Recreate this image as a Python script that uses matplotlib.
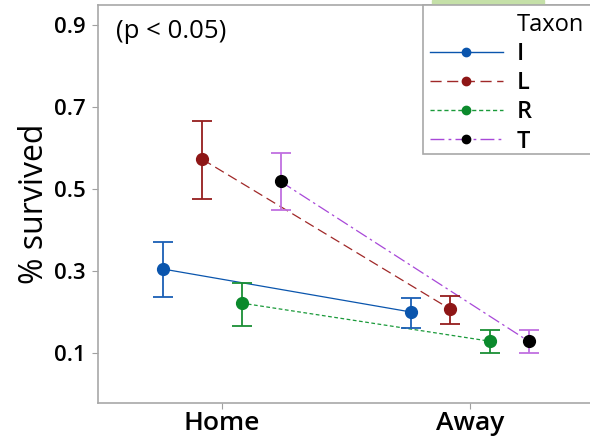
import numpy as np
import matplotlib.pyplot as plt
from matplotlib.lines import Line2D
from matplotlib.patches import Rectangle

plt.rcParams['font.family'] = ['Open Sans', 'DejaVu Sans']

groups = ["Home", "Away"]
taxa = ["I", "L", "R", "T"]
means = {
    "I": [0.305, 0.200],
    "L": [0.573, 0.207],
    "R": [0.222, 0.129],
    "T": [0.519, 0.129],
}
err_hi = {
    "I": [0.371, 0.234],
    "L": [0.666, 0.239],
    "R": [0.271, 0.156],
    "T": [0.588, 0.156],
}
err_lo = {
    "I": [0.237, 0.161],
    "L": [0.476, 0.171],
    "R": [0.166, 0.100],
    "T": [0.449, 0.100],
}

marker_col = {"I": "#0a55ad", "L": "#8e1616", "R": "#0b8a2c", "T": "black"}
line_col = {"I": "#0a55ad", "L": "#a02828", "R": "#1a9a3a", "T": "#a848d8"}
bar_col = {"I": "#1a5fb5", "L": "#951e1e", "R": "#1a8f35", "T": "#c070e0"}
styles = {"I": "-", "L": (0, (8, 4)), "R": (0, (3, 2)), "T": (0, (10, 3, 2, 3))}

fig = plt.figure(figsize=(5.9, 4.38), dpi=100)
ax = fig.add_axes([98 / 590, 1 - 403 / 438, 496 / 590, 398 / 438])

x = np.arange(1, len(groups) + 1)
offs = [-0.236, -0.079, 0.079, 0.236]
for t, o in zip(taxa, offs):
    m = np.array(means[t])
    lo = m - np.array(err_lo[t])
    hi = np.array(err_hi[t]) - m
    ax.plot(x + o, m, color=line_col[t], linestyle=styles[t], lw=0.9, zorder=2)
    ax.errorbar(x + o, m, yerr=[lo, hi], fmt='none', ecolor=bar_col[t],
                elinewidth=1.3, capsize=7.5, capthick=1.3, zorder=3)
    ax.plot(x + o, m, 'o', color=marker_col[t], ms=8.5, zorder=4)

ax.set_xlim(0.5, 2.5)
ax.set_ylim(-0.022, 0.95)
ax.set_xticks(x)
ax.set_xticklabels(groups, fontsize=19, fontweight='semibold')
ax.set_yticks([0.1, 0.3, 0.5, 0.7, 0.9])
ax.set_yticklabels(["0.1", "0.3", "0.5", "0.7", "0.9"], fontsize=16, fontweight='semibold')
ax.tick_params(colors='#a0a0a0', labelcolor='black', length=4, width=0.8)
ax.tick_params(axis='x', pad=2)
ax.tick_params(axis='y', pad=5)
for s in ax.spines.values():
    s.set_color('#a8a8a8')
    s.set_linewidth(1.2)
ax.spines['right'].set_visible(False)
ax.set_ylabel("% survived", fontsize=23, fontweight='medium', labelpad=2)

ax.text(0.036, 0.965, "(p < 0.05)", transform=ax.transAxes, fontsize=18.5,
        va='top', ha='left')

# legend: title as first row with empty handle, frame drawn separately
handles = [Line2D([], [], color='none')]
labels = ["Taxon"]
for t in taxa:
    handles.append(Line2D([], [], color=line_col[t], linestyle=styles[t], lw=1.0,
                          marker='o', ms=6, mfc=marker_col[t], mec=marker_col[t]))
    labels.append(t)
leg = fig.legend(handles, labels, loc='upper left',
                 bbox_to_anchor=(425 / 590, 1 - 8 / 438), fontsize=17,
                 frameon=False, handlelength=3.1, handletextpad=0.6,
                 labelspacing=0.22, borderpad=0.2, borderaxespad=0)
for txt in leg.get_texts()[1:]:
    txt.set_fontweight('semibold')

fig.patches.append(Rectangle((423 / 590, 1 - 154 / 438), 200 / 590, 149 / 438,
                             transform=fig.transFigure, facecolor='white',
                             edgecolor='#a8a8a8', lw=1.2, zorder=5))
fig.patches.append(Rectangle((432 / 590, 1 - 4 / 438), 112 / 590, 4 / 438,
                             transform=fig.transFigure, color='#c5e0a8', zorder=0))

fig.savefig("out.png", dpi=100)
